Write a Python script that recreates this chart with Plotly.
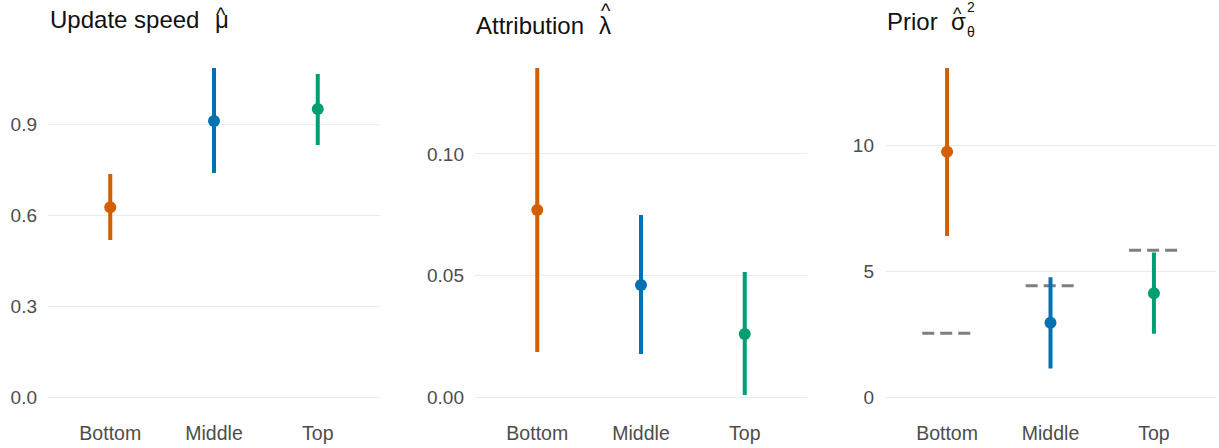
import plotly.graph_objects as go

categories = ["Bottom", "Middle", "Top"]
colors = ["#D55E00", "#0072B2", "#009E73"]

# Panel 1: Update speed mu-hat
mu_est = [0.626, 0.910, 0.950]
mu_lo = [0.518, 0.739, 0.831]
mu_hi = [0.735, 1.085, 1.065]
mu_ticks = [0.0, 0.3, 0.6, 0.9]
mu_ticklabels = ["0.0", "0.3", "0.6", "0.9"]

# Panel 2: Attribution lambda-hat
lam_est = [0.0770, 0.0461, 0.0259]
lam_lo = [0.0185, 0.0177, 0.0008]
lam_hi = [0.1354, 0.0749, 0.0514]
lam_ticks = [0.0, 0.05, 0.10]
lam_ticklabels = ["0.00", "0.05", "0.10"]

# Panel 3: Prior sigma-hat^2_theta
sig_est = [9.76, 2.96, 4.13]
sig_lo = [6.41, 1.14, 2.52]
sig_hi = [13.10, 4.77, 5.75]
sig_ref = [2.54, 4.43, 5.84]
sig_ticks = [0, 5, 10]
sig_ticklabels = ["0", "5", "10"]

W, H = 1219, 448
x_domains = [[48 / W, 380 / W], [475 / W, 807 / W], [885 / W, 1216 / W]]
y_domain = [(H - 413.5) / H, (H - 51.5) / H]

fig = go.Figure()

panels = [
    (mu_est, mu_lo, mu_hi, mu_ticks, mu_ticklabels, None),
    (lam_est, lam_lo, lam_hi, lam_ticks, lam_ticklabels, None),
    (sig_est, sig_lo, sig_hi, sig_ticks, sig_ticklabels, sig_ref),
]

xpos = [1, 2, 3]
for p, (est, lo, hi, ticks, tlabels, ref) in enumerate(panels):
    suffix = "" if p == 0 else str(p + 1)
    xa = "x" + suffix
    ya = "y" + suffix
    # reference dashed lines
    if ref is not None:
        for i, v in enumerate(ref):
            fig.add_trace(go.Scatter(
                x=[xpos[i] - 0.24, xpos[i] + 0.24], y=[v, v], mode="lines",
                line=dict(color="#7F7F7F", width=3, dash="12px,6px"),
                xaxis=xa, yaxis=ya, showlegend=False, hoverinfo="skip"))
    for i in range(3):
        fig.add_trace(go.Scatter(
            x=[xpos[i]], y=[est[i]], mode="markers",
            marker=dict(color=colors[i], size=12),
            error_y=dict(type="data", symmetric=False,
                         array=[hi[i] - est[i]], arrayminus=[est[i] - lo[i]],
                         color=colors[i], thickness=4, width=0),
            xaxis=xa, yaxis=ya, showlegend=False))
    allv = list(lo) + list(hi) + [0] + (list(ref) if ref else [])
    vmin, vmax = min(allv), max(allv)
    span = vmax - vmin
    yr = [vmin - 0.05 * span, vmax + 0.05 * span]
    fig.layout["xaxis" + suffix] = dict(
        domain=x_domains[p], range=[0.4, 3.6], anchor=ya,
        tickmode="array", tickvals=xpos, ticktext=categories,
        showgrid=False, zeroline=False, showline=False, ticks="",
        tickfont=dict(family="Liberation Sans, Arial", size=19.5, color="#4D4D4D"),
        ticklabelstandoff=6)
    fig.layout["yaxis" + suffix] = dict(
        domain=y_domain, range=yr, anchor=xa,
        tickmode="array", tickvals=ticks, ticktext=tlabels,
        showgrid=True, gridcolor="#EBEBEB", gridwidth=1.4,
        zeroline=False, showline=False, ticks="",
        tickfont=dict(family="Liberation Sans, Arial", size=19, color="#4D4D4D"),
        ticklabelstandoff=10)


def ann(text, x, y, size=24, xanchor="left"):
    fig.add_annotation(text=text, x=x / W, y=1 - y / H, xref="paper", yref="paper",
                       xanchor=xanchor, yanchor="bottom", showarrow=False,
                       font=dict(family="Liberation Sans, Arial", size=size, color="#111111"))

# titles
ann("Update speed", 48, 35)
ann("\u03bc", 213, 35)
ann("^", 220.5, 28, size=20, xanchor="center")
ann("Attribution", 474, 41)
ann("\u03bb", 597, 41)
ann("^", 605.5, 24, size=20, xanchor="center")
ann("Prior", 885, 37)
ann("\u03c3", 949, 37)
ann("^", 957, 26, size=18, xanchor="center")
ann("2", 965, 17, size=14)
ann("\u03b8", 965, 42, size=14)

fig.update_layout(width=W, height=H, margin=dict(l=0, r=0, t=0, b=0),
                  plot_bgcolor="white", paper_bgcolor="white")

fig.write_html("out.html", config={"displayModeBar": False},
               post_script="document.body.style.margin='0px';document.body.style.padding='0px';")
